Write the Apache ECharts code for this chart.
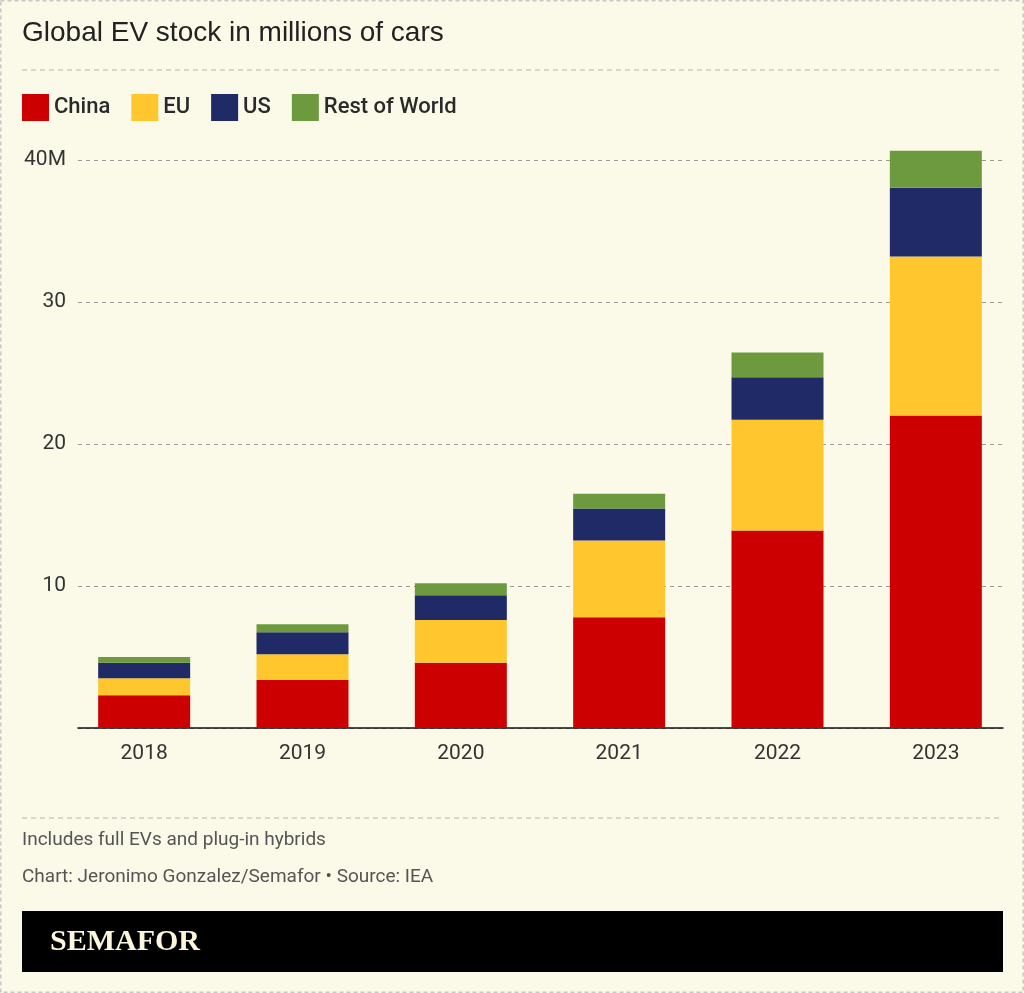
<!DOCTYPE html>
<html>
<head>
<meta charset="utf-8">
<script src="https://cdn.jsdelivr.net/npm/echarts@6/dist/echarts.min.js"></script>
<style>
html,body{margin:0;padding:0;background:#FBFAE9;}
#chart{width:1024px;height:993px;}
</style>
</head>
<body>
<div id="chart"></div>
<script>
const categories = ['2018', '2019', '2020', '2021', '2022', '2023'];
const china = [2.3, 3.4, 4.6, 7.8, 13.9, 22.0];
const eu = [1.2, 1.8, 3.0, 5.4, 7.8, 11.2];
const us = [1.1, 1.55, 1.75, 2.25, 3.0, 4.85];
const restOfWorld = [0.4, 0.55, 0.85, 1.05, 1.75, 2.6];
const yTicks = [0, 10, 20, 30, 40];

const condensed = '"Roboto", "Noto Sans", sans-serif';
const chart = echarts.init(document.getElementById('chart'));

function bar(name, data, color) {
  return {
    name: name, type: 'bar', stack: 'total', data: data, barWidth: 92,
    xAxisIndex: 0, yAxisIndex: 0,
    clip: false, itemStyle: { color: color }, emphasis: { disabled: true }
  };
}

const yMin = yTicks[0], yMax = yTicks[yTicks.length - 1];

chart.setOption({
  backgroundColor: '#FBFAE9',
  animation: false,
  title: {
    text: 'Global EV stock in millions of cars',
    left: 17, top: 14,
    textStyle: { fontFamily: '"Liberation Sans", Arial, sans-serif', fontSize: 28, fontWeight: 'normal', color: '#222' }
  },
  legend: {
    left: 17, top: 89, icon: 'rect', itemWidth: 27, itemHeight: 27, itemGap: 21,
    textStyle: { fontFamily: condensed, fontSize: 22, fontWeight: 500, color: '#2a2a2a' },
    selectedMode: false
  },
  grid: [
    { left: 65, right: 9, top: 160, bottom: 265 },
    { left: 78, right: 21, top: 160, bottom: 265 }
  ],
  xAxis: [
    {
      type: 'category', data: categories, gridIndex: 0,
      axisLine: { show: false },
      axisTick: { show: false },
      axisLabel: { fontFamily: condensed, fontSize: 21, color: '#333', margin: 15 }
    },
    {
      type: 'category', data: categories, gridIndex: 1,
      axisLine: { lineStyle: { color: '#111', width: 1.5 } },
      axisTick: { show: false },
      axisLabel: { show: false }
    }
  ],
  yAxis: [
    {
      type: 'value', gridIndex: 0, min: yMin, max: yMax, interval: 10,
      axisLine: { show: false }, axisTick: { show: false },
      splitLine: { show: false }, axisLabel: { show: false }
    },
    {
      type: 'value', gridIndex: 1, min: yMin, max: yMax, interval: 10,
      axisLine: { show: false }, axisTick: { show: false },
      splitLine: { lineStyle: { color: '#9a9a9a', type: [4, 4], width: 1 } },
      axisLabel: {
        showMinLabel: false, fontFamily: condensed, fontSize: 21, color: '#333', margin: 12,
        formatter: v => v === 40 ? '40M' : String(v)
      }
    }
  ],
  series: [
    bar('China', china, '#CC0000'),
    bar('EU', eu, '#FFC62E'),
    bar('US', us, '#1F2A66'),
    bar('Rest of World', restOfWorld, '#6E9A3F')
  ],
  graphic: [
    { type: 'rect', shape: { x: 0.5, y: 0.5, width: 1023, height: 992 }, style: { fill: null, stroke: '#c8c8c8', lineWidth: 2, lineDash: [4, 3] }, silent: true },
    { type: 'line', shape: { x1: 22, y1: 70, x2: 1003, y2: 70 }, style: { stroke: '#b5b5b5', lineWidth: 1, lineDash: [5, 4] } },
    { type: 'line', shape: { x1: 22, y1: 818, x2: 1003, y2: 818 }, style: { stroke: '#b5b5b5', lineWidth: 1, lineDash: [5, 4] } },
    { type: 'text', left: 22, top: 831, style: { text: 'Includes full EVs and plug-in hybrids', font: '19px ' + condensed, fill: '#555' } },
    { type: 'text', left: 22, top: 868, style: { text: 'Chart: Jeronimo Gonzalez/Semafor \u2022 Source: IEA', font: '19px ' + condensed, fill: '#555' } },
    { type: 'rect', shape: { x: 22, y: 911, width: 981, height: 61 }, style: { fill: '#000' } },
    { type: 'text', left: 50, top: 927, style: { text: 'SEMAFOR', font: 'bold 30px "Liberation Serif", "DejaVu Serif", serif', fill: '#FBF6DC' } }
  ]
});
</script>
</body>
</html>
